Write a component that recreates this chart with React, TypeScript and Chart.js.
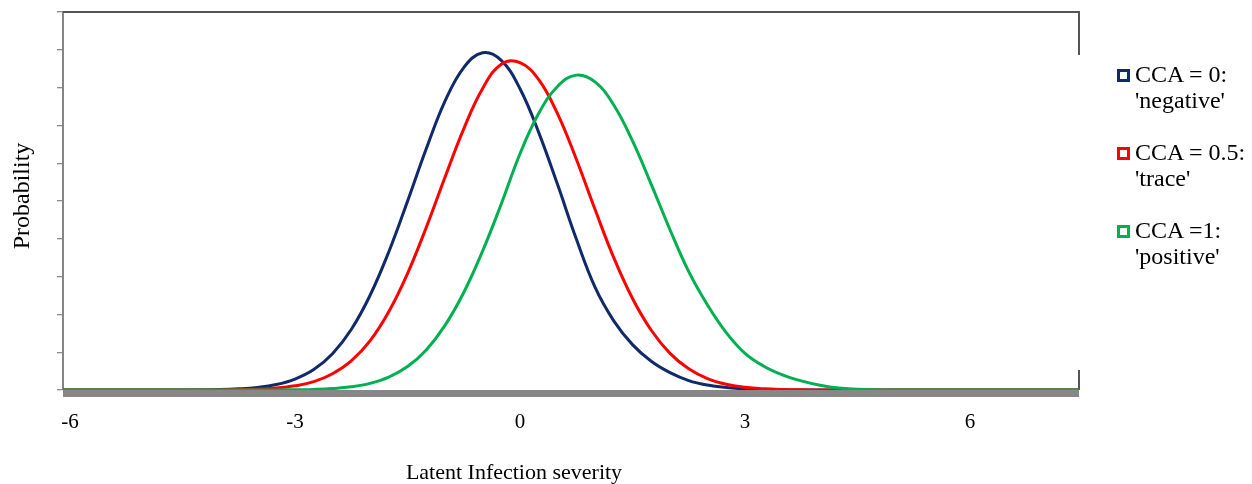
import React, { useEffect, useRef } from "react";
import { Chart, registerables } from "chart.js";

Chart.register(...registerables);

// x positions (latent infection severity)
const X_VALUES = [
  -6.1, -5, -4.5, -4, -3.75, -3.5, -3.25, -3, -2.75, -2.5, -2.25, -2, -1.75, -1.5, -1.25, -1,
  -0.75, -0.5, -0.25, 0, 0.25, 0.5, 0.75, 1, 1.25, 1.5, 1.75, 2, 2.25, 2.5, 2.75, 3, 3.25, 3.5,
  3.75, 4, 4.25, 4.5, 4.75, 5, 6, 7.5,
];

// CCA = 0 : 'negative'
const NEGATIVE = [
  0, 0, 0.0001, 0.0012, 0.003, 0.0068, 0.0145, 0.029, 0.054, 0.096, 0.16, 0.25, 0.365, 0.499, 0.638, 0.764,
  0.853, 0.892, 0.872, 0.797, 0.681, 0.544, 0.4, 0.272, 0.183, 0.12, 0.076, 0.046, 0.025, 0.013, 0.0065, 0.003, 0.0012, 0.0004,
  0.0001, 0, 0, 0, 0, 0, 0, 0,
];

// CCA = 0.5 : 'trace'
const TRACE = [
  0, 0, 0, 0.0003, 0.0009, 0.0022, 0.005, 0.011, 0.022, 0.043, 0.077, 0.13, 0.207, 0.308, 0.43, 0.563,
  0.691, 0.797, 0.862, 0.866, 0.821, 0.731, 0.611, 0.478, 0.35, 0.242, 0.158, 0.097, 0.056, 0.03, 0.015, 0.0072, 0.0032, 0.0013,
  0.0005, 0.0002, 0, 0, 0, 0, 0, 0,
];

// CCA = 1 : 'positive'
const POSITIVE = [
  0, 0, 0, 0, 0, 0.0001, 0.0003, 0.0007, 0.0016, 0.0038, 0.0084, 0.0175, 0.034, 0.062, 0.106, 0.171,
  0.258, 0.367, 0.492, 0.625, 0.732, 0.803, 0.833, 0.815, 0.754, 0.659, 0.544, 0.424, 0.313, 0.225, 0.152, 0.097, 0.063, 0.04,
  0.024, 0.0125, 0.005, 0.0022, 0.0008, 0.0003, 0, 0,
];

const X_MIN = -6.0933;
const X_MAX = 7.4533;
const X_TICKS = [-6, -3, 0, 3, 6];
const Y_TICKS = [0, 0.1, 0.2, 0.3, 0.4, 0.5, 0.6, 0.7, 0.8, 0.9, 1];

const X_TITLE = "Latent Infection severity";
const Y_TITLE = "Probability";

const LEGEND_LINE1 = ["CCA = 0:", "CCA = 0.5:", "CCA =1:"];
const LEGEND_LINE2 = ["'negative'", "'trace'", "'positive'"];
const COLORS = ["#10296b", "#ff0000", "#00b050"];

const SERIF = '"Liberation Serif", "Times New Roman", serif';

const framePlugin = {
  id: "frame",
  beforeDatasetsDraw(chart: any) {
    const { ctx, chartArea: a } = chart;
    ctx.save();
    ctx.fillStyle = "#878787";
    ctx.fillRect(a.left, a.bottom, a.right - a.left, 7);
    ctx.strokeStyle = "#555555";
    ctx.lineWidth = 2;
    ctx.beginPath();
    ctx.moveTo(a.left, a.top);
    ctx.lineTo(a.right + 1, a.top);
    ctx.moveTo(a.right, a.top);
    ctx.lineTo(a.right, a.top + 43);
    ctx.moveTo(a.right, a.bottom - 20);
    ctx.lineTo(a.right, a.bottom);
    ctx.stroke();
    ctx.restore();
  },
  afterDraw(chart: any) {
    const { ctx } = chart;
    ctx.save();
    ctx.fillStyle = "#000";
    ctx.textAlign = "center";
    ctx.textBaseline = "middle";
    ctx.font = `22px ${SERIF}`;
    ctx.fillText(X_TITLE, 514, 473);
    ctx.translate(23, 196);
    ctx.rotate(-Math.PI / 2);
    ctx.font = `24px ${SERIF}`;
    ctx.fillText(Y_TITLE, 0, 0);
    ctx.restore();
  },
};

export default function App() {
  const ref = useRef<HTMLCanvasElement>(null);

  useEffect(() => {
    const mk = (label: string, values: number[], color: string) => ({
      label,
      data: X_VALUES.map((x, i) => ({ x, y: values[i] })),
      borderColor: color,
      backgroundColor: color,
      borderWidth: 3,
      pointRadius: 0,
      fill: false,
      tension: 0.4,
    });
    const chart = new Chart(ref.current as HTMLCanvasElement, {
      type: "line",
      data: {
        datasets: [
          mk(LEGEND_LINE1[2] + " " + LEGEND_LINE2[2], POSITIVE, COLORS[2]),
          mk(LEGEND_LINE1[1] + " " + LEGEND_LINE2[1], TRACE, COLORS[1]),
          mk(LEGEND_LINE1[0] + " " + LEGEND_LINE2[0], NEGATIVE, COLORS[0]),
        ],
      },
      options: {
        animation: false,
        responsive: true,
        maintainAspectRatio: false,
        layout: { padding: { left: 0, right: 173, top: 12, bottom: 0 } },
        plugins: { legend: { display: false }, tooltip: { enabled: false } },
        scales: {
          x: {
            type: "linear",
            min: X_MIN,
            max: X_MAX,
            afterBuildTicks: (s: any) => {
              s.ticks = X_TICKS.map((v) => ({ value: v }));
            },
            afterFit: (s: any) => {
              s.height = 94;
            },
            grid: { display: false, drawTicks: false },
            border: { display: false },
            ticks: {
              padding: 20,
              color: "#000",
              autoSkip: false,
              maxRotation: 0,
              font: { family: SERIF, size: 21 },
            },
          },
          y: {
            type: "linear",
            min: 0,
            max: 1,
            afterBuildTicks: (s: any) => {
              s.ticks = Y_TICKS.map((v) => ({ value: v }));
            },
            afterFit: (s: any) => {
              s.width = 63;
            },
            grid: { drawOnChartArea: false, drawTicks: true, tickLength: 6, color: "#8a8a8a", lineWidth: 1.3 },
            border: { display: true, color: "#858585", width: 2 },
            ticks: { display: false },
          },
        },
      },
      plugins: [framePlugin],
    });
    return () => chart.destroy();
  }, []);

  const centers = [74, 152, 230];
  return (
    <div style={{ position: "fixed", left: 0, top: 0, width: 1252, height: 484, background: "#fff" }}>
      <canvas ref={ref} />
      {centers.map((c, i) => (
        <div key={i}>
          <div
            style={{
              position: "absolute",
              left: 1117,
              top: c - 5,
              width: 7,
              height: 7,
              border: `3px solid ${COLORS[i]}`,
              background: "#fff",
            }}
          />
          <div
            style={{
              position: "absolute",
              left: 1135,
              top: c - 13,
              font: `24px ${SERIF}`,
              lineHeight: "26px",
              color: "#000",
              whiteSpace: "nowrap",
            }}
          >
            <div>{LEGEND_LINE1[i]}</div>
            <div>{LEGEND_LINE2[i]}</div>
          </div>
        </div>
      ))}
    </div>
  );
}
